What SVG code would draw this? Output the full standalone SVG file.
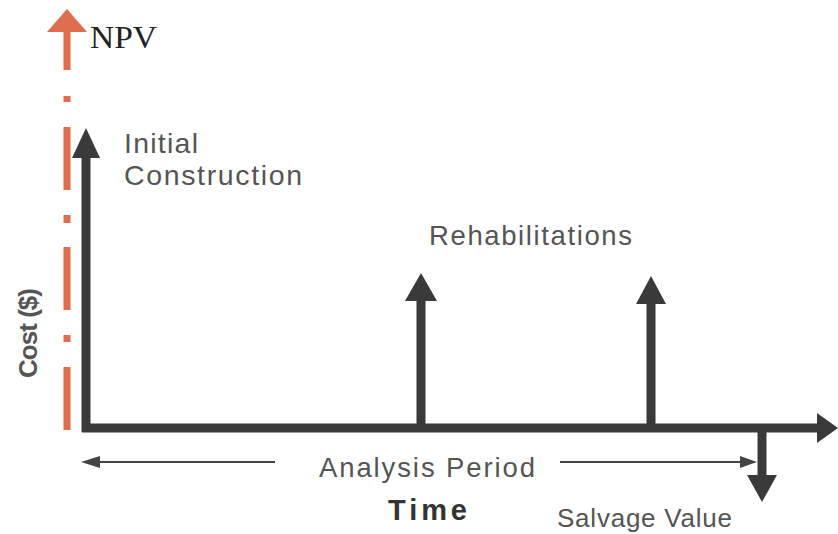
<svg xmlns="http://www.w3.org/2000/svg" width="838" height="534" viewBox="0 0 838 534">
  <style>
    .lbl { font-family: "Liberation Sans", Arial, sans-serif; fill: #555555; }
    .blk { fill: #3a3a3a; }
    .shaft { stroke: #3a3a3a; stroke-width: 9; fill: none; }
    .thin { stroke: #444444; stroke-width: 2; fill: none; }
    .org { stroke: #dd6e4f; stroke-width: 7; fill: none; }
  </style>
  <rect width="838" height="534" fill="#ffffff"/>
  <g id="npv-axis">
    <polygon points="67,9 47,32 87,32" fill="#dd6e4f"/>
    <path class="org" d="M67,31 V70 M67,96 V102 M67,127 V190 M67,215 V223 M67,247 V310 M67,335 V342 M67,367 V430"/>
    <text x="90" y="48" font-family="'Liberation Serif', 'Times New Roman', serif" font-size="31" fill="#222222" textLength="67" lengthAdjust="spacingAndGlyphs">NPV</text>
  </g>
  <g id="connectors">
    <g id="cost-axis">
      <line class="shaft" x1="86" y1="432" x2="86" y2="156"/>
      <polygon class="blk" points="86,128 72,158 100,158"/>
    </g>
    <g id="time-axis">
      <line class="shaft" x1="82" y1="428" x2="820" y2="428"/>
      <polygon class="blk" points="817,413 838,428 817,443"/>
    </g>
    <g id="rehab1">
      <line class="shaft" x1="421" y1="428" x2="421" y2="298"/>
      <polygon class="blk" points="421,273 405,301 437,301"/>
    </g>
    <g id="rehab2">
      <line class="shaft" x1="651" y1="428" x2="651" y2="302"/>
      <polygon class="blk" points="651,276 636,304 666,304"/>
    </g>
    <g id="salvage">
      <line class="shaft" x1="762" y1="424" x2="762" y2="478"/>
      <polygon class="blk" points="747,475 777,475 762,502"/>
    </g>
    <g id="analysis-left">
      <line class="thin" x1="275" y1="462" x2="96" y2="462"/>
      <polygon fill="#444444" points="81,462 100,456 100,468"/>
    </g>
    <g id="analysis-right">
      <line class="thin" x1="560" y1="462" x2="744" y2="462"/>
      <polygon fill="#444444" points="757,462 740,456 740,468"/>
    </g>
  </g>
  <g id="labels">
    <text class="lbl" x="124" y="153" font-size="28.5" textLength="74" lengthAdjust="spacing">Initial</text>
    <text class="lbl" x="124" y="185" font-size="28.5" textLength="178" lengthAdjust="spacing">Construction</text>
    <text class="lbl" x="429" y="245" font-size="27.5" textLength="203" lengthAdjust="spacing">Rehabilitations</text>
    <text class="lbl" x="319" y="477" font-size="27.5" textLength="216" lengthAdjust="spacing">Analysis Period</text>
    <text class="lbl" x="388" y="520" font-size="29" font-weight="bold" style="fill:#333333" textLength="79" lengthAdjust="spacing">Time</text>
    <text class="lbl" x="557" y="527" font-size="26" textLength="175" lengthAdjust="spacing">Salvage Value</text>
    <text class="lbl" transform="translate(37,333) rotate(-90)" text-anchor="middle" font-size="26" font-weight="bold" textLength="90" lengthAdjust="spacing">Cost ($)</text>
  </g>
</svg>
